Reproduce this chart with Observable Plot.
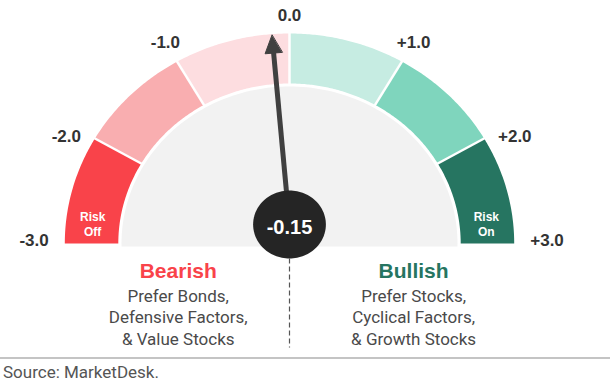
<!DOCTYPE html>
<html>
<head>
<meta charset="utf-8">
<script src="https://cdn.jsdelivr.net/npm/d3@7"></script>
<script src="https://cdn.jsdelivr.net/npm/@observablehq/plot@0.6"></script>
<style>
  html, body { margin: 0; padding: 0; background: #fff; }
  #chart { width: 610px; }
  #source { width: 610px; border-top: 2px solid #c4c4c4; font-family: Roboto, sans-serif; font-size: 17px; color: #555; padding: 3px 0 0 3px; box-sizing: border-box; line-height: 20px; }
</style>
</head>
<body>
<div id="chart"></div>
<div id="source">Source: MarketDesk.</div>
<script>
// ---- data ----
const segmentStart = [-3, -2, -1, 0, 1, 2];
const segmentEnd = [-2, -1, 0, 1, 2, 3];
const segmentColors = ["#f9434a", "#f9aeb0", "#fddde0", "#c6ece2", "#7fd5bd", "#267561"];
const tickValues = [-3, -2, -1, 0, 1, 2, 3];
const tickLabels = ["-3.0", "-2.0", "-1.0", "0.0", "+1.0", "+2.0", "+3.0"];
const gaugeValue = -0.15;
const gaugeLabel = "-0.15";
const zoneLabels = ["Risk\nOff", "Risk\nOn"];
const sideTitles = ["Bearish", "Bullish"];
const sideTexts = ["Prefer Bonds,\nDefensive Factors,\n& Value Stocks", "Prefer Stocks,\nCyclical Factors,\n& Growth Stocks"];
const sideColors = ["#f9434a", "#267561"];

// ---- layout ----
const W = 610, H = 357, cx = 289, cy = 243, kx = 1.07;
const R_OUT = 210, R_IN = 160, R_GRAY = 157;
const ang = v => (90 - v * 30) * Math.PI / 180;
const polar = (a, r) => ({x: r * Math.cos(a), y: r * Math.sin(a)});

function arcPoly(v0, v1, r0, r1) {
  const a0 = ang(v0), a1 = ang(v1), n = 60, pts = [];
  for (let i = 0; i <= n; i++) pts.push(polar(a0 + (a1 - a0) * i / n, r1));
  for (let i = n; i >= 0; i--) pts.push(polar(a0 + (a1 - a0) * i / n, r0));
  return pts;
}

const grayPoly = [];
for (let i = 0; i <= 120; i++) grayPoly.push(polar(Math.PI * i / 120, R_GRAY));
grayPoly.push({x: -R_GRAY, y: -3}, {x: R_GRAY, y: -3});

const boundaries = segmentStart.slice(1).map(v => {
  const a = polar(ang(v), R_IN - 2), b = polar(ang(v), R_OUT + 3);
  return {x1: a.x, y1: a.y, x2: b.x, y2: b.y};
});

// needle
const hubY = 19, hubR = 34;
const tip = polar(ang(gaugeValue), 209);
const dx = tip.x, dy = tip.y - hubY, len = Math.hypot(dx, dy);
const ux = dx / len, uy = dy / len;
const headLen = 18, headHalf = 8;
const base = {x: tip.x - ux * headLen, y: tip.y - uy * headLen};
const shaft = [{x1: 0, y1: hubY, x2: base.x + ux * 2, y2: base.y + uy * 2}];
const head = [tip, {x: base.x - uy * headHalf, y: base.y + ux * headHalf}, {x: base.x + uy * headHalf, y: base.y - ux * headHalf}];

const hub = [];
for (let i = 0; i < 120; i++) {
  const t = 2 * Math.PI * i / 120;
  hub.push({x: hubR * Math.cos(t), y: hubY + hubR * Math.sin(t)});
}

// tick labels
const tickData = tickValues.map((v, i) => {
  const side = Math.abs(v) <= 1 ? "middle" : (v < 0 ? "end" : "start");
  const r = v === 0 ? 228 : (Math.abs(v) === 1 ? 232 : 225);
  const p = polar(ang(v), r);
  const nudge = Math.abs(v) === 2 ? -6 : (Math.abs(v) === 3 ? 3 : 0);
  return {x: p.x, y: p.y + nudge, text: tickLabels[i], side};
});

const zoneData = zoneLabels.map((t, i) => {
  const v = i === 0 ? segmentStart[0] : segmentEnd[segmentEnd.length - 1];
  const p = polar(ang(v) + (i === 0 ? -1 : 1) * 6 * Math.PI / 180, (R_IN + R_OUT) / 2);
  return {x: p.x, y: p.y, text: t};
});

const sideX = [-104, 116];
const titleData = sideTitles.map((t, i) => ({x: sideX[i], y: -28, text: t, color: sideColors[i]}));
const textData = sideTexts.map((t, i) => ({x: sideX[i], y: -73, text: t}));

const boldFont = "'Liberation Sans', Arial, sans-serif";

const marks = [
  Plot.line(grayPoly, {x: "x", y: "y", fill: "#f2f2f2", stroke: "none", curve: "linear-closed"}),
  ...segmentStart.map((s, i) => Plot.line(arcPoly(s, segmentEnd[i], R_IN, R_OUT), {x: "x", y: "y", fill: segmentColors[i], stroke: "none", curve: "linear-closed"})),
  Plot.link(boundaries, {x1: "x1", y1: "y1", x2: "x2", y2: "y2", stroke: "white", strokeWidth: 2.5}),
  Plot.link([{x: 0, y1: -15, y2: -104}], {x1: "x", x2: "x", y1: "y1", y2: "y2", stroke: "#555", strokeWidth: 1.2, strokeDasharray: "5,3"}),
  Plot.link(shaft, {x1: "x1", y1: "y1", x2: "x2", y2: "y2", stroke: "#404040", strokeWidth: 5}),
  Plot.line(head, {x: "x", y: "y", fill: "#404040", stroke: "#404040", strokeWidth: 1, curve: "linear-closed"}),
  Plot.line(hub, {x: "x", y: "y", fill: "#252525", stroke: "none", curve: "linear-closed"}),
  Plot.text([{x: 0, y: hubY - 3, text: gaugeLabel}], {x: "x", y: "y", text: "text", fill: "white", fontSize: 20, fontWeight: "bold", fontFamily: boldFont}),
  ...["end", "middle", "start"].map(anchor => Plot.text(tickData.filter(d => d.side === anchor), {x: "x", y: "y", text: "text", textAnchor: anchor, fill: "#333", fontSize: 17, fontWeight: "bold", fontFamily: boldFont})),
  Plot.text(zoneData, {x: "x", y: "y", text: "text", fill: "white", fontSize: 12, fontWeight: "bold", fontFamily: boldFont, lineHeight: 1.25}),
  Plot.text(titleData, {x: "x", y: "y", text: "text", fill: "color", fontSize: 21, fontWeight: "bold", fontFamily: boldFont}),
  Plot.text(textData, {x: "x", y: "y", text: "text", fill: "#4a4a4a", fontSize: 17, fontFamily: "Roboto, sans-serif", lineHeight: 1.27})
];

const chart = Plot.plot({
  width: W, height: H,
  margin: 0,
  x: {domain: [-cx / kx, (W - cx) / kx], range: [0, W], axis: null},
  y: {domain: [cy - H, cy], range: [H, 0], axis: null},
  style: {background: "white", overflow: "visible"},
  marks
});
document.getElementById("chart").appendChild(chart);
</script>
</body>
</html>
